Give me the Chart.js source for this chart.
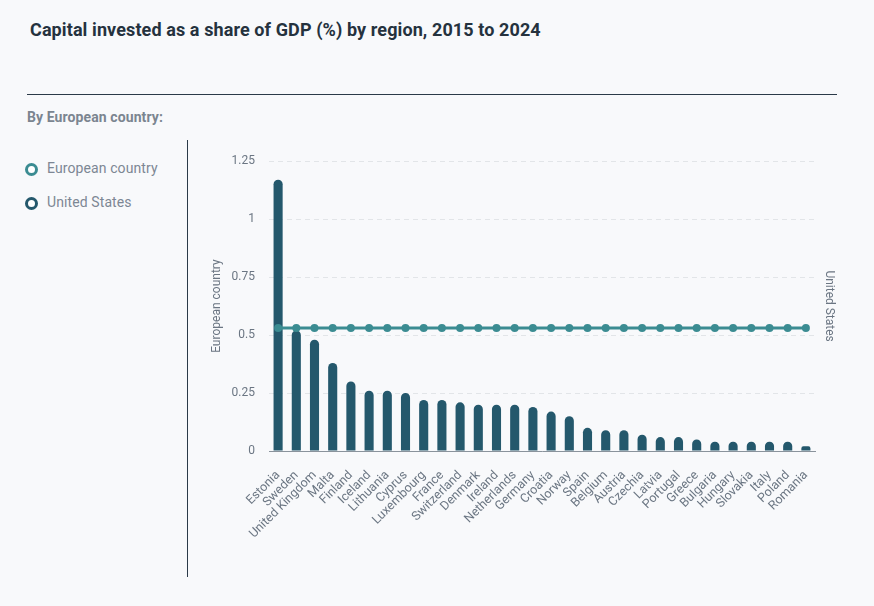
<!DOCTYPE html>
<html>
<head>
<meta charset="utf-8">
<script src="https://cdn.jsdelivr.net/npm/chart.js@4"></script>
<style>
  html, body { margin: 0; padding: 0; background: #f8f9fb; width: 874px; height: 606px; overflow: hidden; font-family: Roboto, "Noto Sans", sans-serif; }
  #title { position: absolute; left: 30px; top: 19px; font-size: 18px; font-weight: 700; color: #25323e; letter-spacing: 0.1px; white-space: nowrap; }
  #rule { position: absolute; left: 27px; top: 94px; width: 810px; height: 1px; background: #2b3a48; }
  #sub { position: absolute; left: 27px; top: 109px; font-size: 14px; font-weight: 700; color: #7b8590; letter-spacing: 0.1px; }
  .leg { position: absolute; left: 25px; font-size: 14px; color: #7d8794; white-space: nowrap; letter-spacing: 0.1px; }
  .leg .dot { position: absolute; left: 0; top: 3px; width: 7px; height: 7px; border-radius: 50%; border: 3.5px solid; background: #ffffff; }
  .leg .txt { position: absolute; left: 22px; top: 0; }
  #vline { position: absolute; left: 187px; top: 140px; width: 1px; height: 437px; background: #2b3a48; }
  #wrap { position: absolute; left: 188px; top: 140px; width: 662px; height: 437px; }
</style>
</head>
<body>
<div id="title">Capital invested as a share of GDP (%) by region, 2015 to 2024</div>
<div id="rule"></div>
<div id="sub">By European country:</div>
<div class="leg" style="top:160px"><span class="dot" style="border-color:#3b8c92"></span><span class="txt">European country</span></div>
<div class="leg" style="top:194px"><span class="dot" style="border-color:#24586c"></span><span class="txt">United States</span></div>
<div id="vline"></div>
<div id="wrap"><canvas id="c" width="662" height="437"></canvas></div>
<script>
const countries = ["Estonia","Sweden","United Kingdom","Malta","Finland","Iceland","Lithuania","Cyprus","Luxembourg","France","Switzerland","Denmark","Ireland","Netherlands","Germany","Croatia","Norway","Spain","Belgium","Austria","Czechia","Latvia","Portugal","Greece","Bulgaria","Hungary","Slovakia","Italy","Poland","Romania"];
const europeValues = [1.17,0.52,0.48,0.38,0.30,0.26,0.26,0.25,0.22,0.22,0.21,0.20,0.20,0.20,0.19,0.17,0.15,0.10,0.09,0.09,0.07,0.06,0.06,0.05,0.04,0.04,0.04,0.04,0.04,0.02];
const usValues = [0.53,0.53,0.53,0.53,0.53,0.53,0.53,0.53,0.53,0.53,0.53,0.53,0.53,0.53,0.53,0.53,0.53,0.53,0.53,0.53,0.53,0.53,0.53,0.53,0.53,0.53,0.53,0.53,0.53,0.53];
const yTicks = [0, 0.25, 0.5, 0.75, 1, 1.25];

const tickColor = '#6b7683';
new Chart(document.getElementById('c'), {
  data: {
    labels: countries,
    datasets: [
      { type: 'line', label: 'United States', data: usValues, yAxisID: 'y2', order: 0,
        borderColor: '#3b8c92', backgroundColor: '#3b8c92', borderWidth: 3,
        pointRadius: 4, pointHoverRadius: 4, pointBackgroundColor: '#3b8c92', pointBorderWidth: 0, tension: 0 },
      { type: 'bar', label: 'European country', data: europeValues, yAxisID: 'y', order: 1,
        backgroundColor: '#24586c', barPercentage: 0.5, categoryPercentage: 1,
        borderRadius: { topLeft: 5, topRight: 5, bottomLeft: 0, bottomRight: 0 }, borderSkipped: 'bottom' }
    ]
  },
  options: {
    responsive: false,
    animation: false,
    layout: { padding: { left: 18, right: 10, top: 20, bottom: 0 } },
    plugins: { legend: { display: false }, tooltip: { enabled: false } },
    scales: {
      x: {
        offset: true,
        grid: { display: false, drawTicks: false },
        border: { display: true, color: '#8a939c', width: 1 },
        ticks: { color: tickColor, font: { family: 'Roboto', size: 12.5 }, maxRotation: 45, minRotation: 45, autoSkip: false, padding: 17 },
        afterFit: s => { s.height = 126; }
      },
      y: {
        position: 'left', min: 0, max: 1.25,
        afterBuildTicks: s => { s.ticks = yTicks.map(v => ({ value: v })); },
        grid: { color: '#e2e5e8', drawTicks: false },
        border: { display: false, dash: [5, 4] },
        ticks: { color: tickColor, font: { family: 'Roboto', size: 12 }, padding: 14,
                 callback: v => String(Math.round(v * 100) / 100) },
        title: { display: true, text: 'European country', color: tickColor, font: { family: 'Roboto', size: 12 }, padding: 4 },
        afterFit: s => { s.width = 63; }
      },
      y2: {
        position: 'right', min: 0, max: 1.25,
        grid: { display: false, drawTicks: false },
        border: { display: false },
        ticks: { display: false },
        title: { display: true, text: 'United States', color: tickColor, font: { family: 'Roboto', size: 12 }, padding: 4 },
        afterFit: s => { s.width = 25; }
      }
    }
  }
});
</script>
</body>
</html>
